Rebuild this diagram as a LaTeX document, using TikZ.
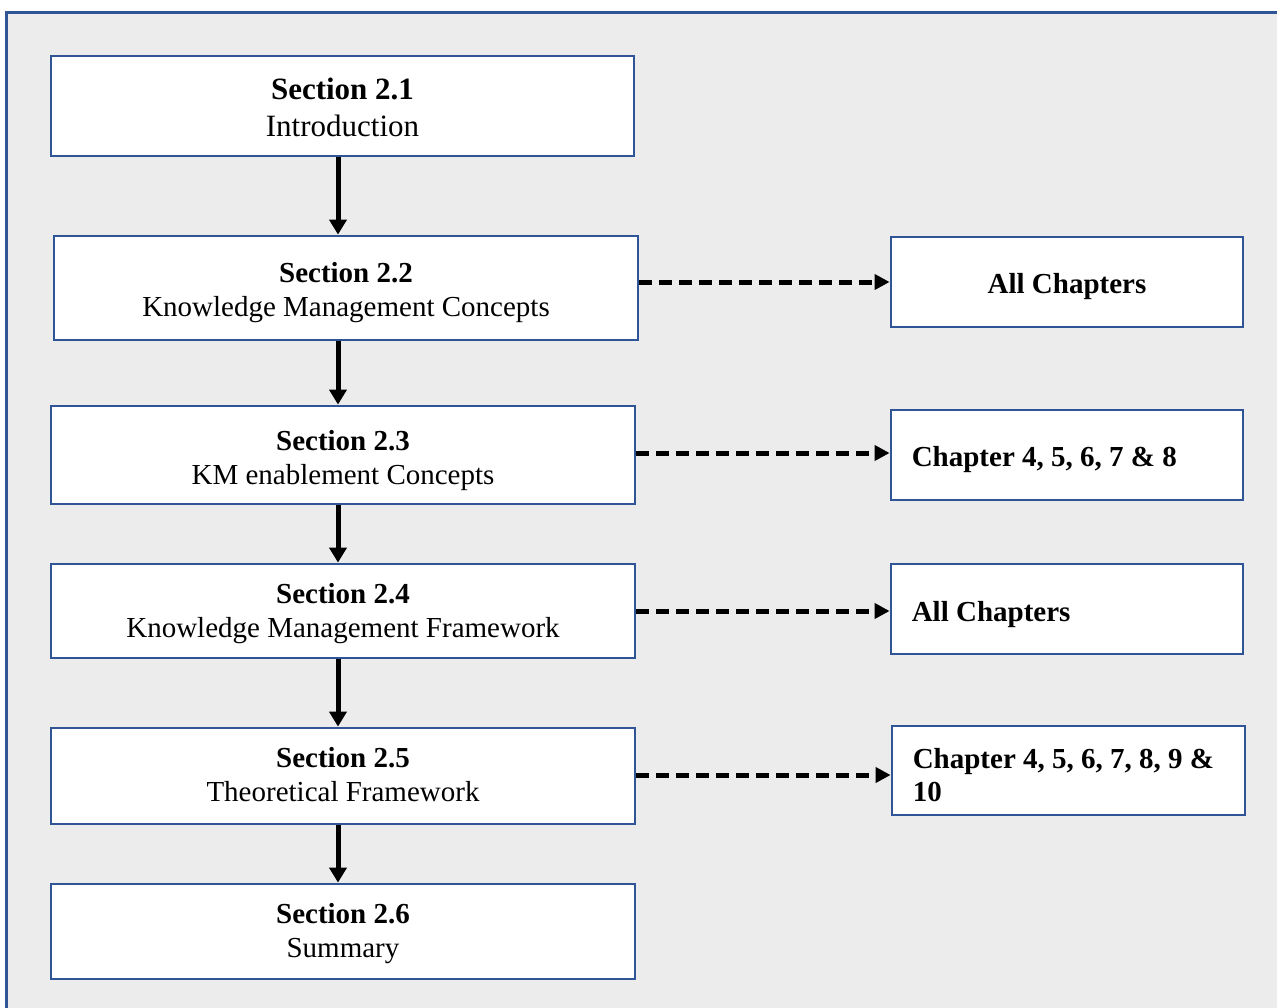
\documentclass[tikz,border=0pt]{standalone}
\usepackage{fontspec}
\setmainfont{Liberation Serif}
\usetikzlibrary{arrows.meta}
\definecolor{frameblue}{HTML}{2F5597}
\definecolor{panelgray}{HTML}{ECECEC}
\begin{document}
\frenchspacing
\begin{tikzpicture}[x=1pt,y=-1pt,
  box/.style={draw=frameblue, line width=2.8pt, fill=white, inner sep=0pt},
  refbox/.style={box, minimum width=352, minimum height=90},
  txt/.style={inner sep=0pt, align=center, font=\fontsize{29}{34}\selectfont},
  bigtxt/.style={txt, font=\fontsize{31}{37}\selectfont},
  reftxt/.style={txt, font=\bfseries\fontsize{29}{33}\selectfont},
  leftreftxt/.style={reftxt, anchor=west, align=left},
  flow/.style={line width=5pt, -{Triangle[length=15pt,width=17pt]}},
  link/.style={line width=5pt, dash pattern=on 13pt off 7pt,
    -{Triangle[length=15pt,width=15pt]}}
]
\fill[white] (0,0) rectangle (1277,1007);
\useasboundingbox (0,0) rectangle (1277,1007);
\draw[frameblue, fill=panelgray, line width=3pt] (6,12) rectangle (1310,1040);

% section boxes
\node[box, minimum width=583, minimum height=100] (s1) at (342.5,106) {};
\node[box, minimum width=584, minimum height=104] (s2) at (346,288) {};
\node[box, minimum width=584, minimum height=98] (s3) at (343,455) {};
\node[box, minimum width=584, minimum height=94] (s4) at (343,611) {};
\node[box, minimum width=584, minimum height=96] (s5) at (343,776) {};
\node[box, minimum width=584, minimum height=95] (s6) at (343,931.5) {};

\node[bigtxt] (s1t) at ([yshift=-1pt]s1.center) {\textbf{Section 2.1}\\Introduction};
\node[txt] (s2t) at ([yshift=-5pt]s2.center) {\textbf{Section 2.2}\\Knowledge Management Concepts};
\node[txt] (s3t) at ([yshift=-6pt]s3.center) {\textbf{Section 2.3}\\KM enablement Concepts};
\node[txt] (s4t) at ([yshift=-3pt]s4.center) {\textbf{Section 2.4}\\Knowledge Management Framework};
\node[txt] (s5t) at ([yshift=1pt]s5.center) {\textbf{Section 2.5}\\Theoretical Framework};
\node[txt] (s6t) at ([yshift=-2pt]s6.center) {\textbf{Section 2.6}\\Summary};

% chapter reference boxes
\node[refbox] (r1) at (1067,282) {};
\node[refbox] (r2) at (1067,455) {};
\node[refbox] (r3) at (1067,609) {};
\node[refbox, minimum width=353, minimum height=89] (r4) at (1068.5,770.5) {};

\node[reftxt] (r1t) at ([yshift=-5pt]r1.center) {All Chapters};
\node[leftreftxt] (r2t) at ([xshift=22pt,yshift=-5pt]r2.west) {Chapter 4, 5, 6, 7 \& 8};
\node[leftreftxt] (r3t) at ([xshift=22pt,yshift=-6pt]r3.west) {All Chapters};
\node[leftreftxt] (r4t) at ([xshift=22pt,yshift=-4.5pt]r4.west) {Chapter 4, 5, 6, 7, 8, 9 \&\\10};

% main flow
\coordinate (spine) at (338,0);
\draw[flow] (s1.south -| spine) -- (s2.north -| spine);
\draw[flow] (s2.south -| spine) -- (s3.north -| spine);
\draw[flow] (s3.south -| spine) -- (s4.north -| spine);
\draw[flow] (s4.south -| spine) -- (s5.north -| spine);
\draw[flow] (s5.south -| spine) -- (s6.north -| spine);

% links to chapters
\draw[link] (s2.east |- r1.west) -- (r1.west);
\draw[link] ([yshift=2pt]s3.east |- r2.west) -- ([yshift=2pt]r2.west);
\draw[link] ([yshift=-2pt]s4.east |- r3.west) -- ([yshift=-2pt]r3.west);
\draw[link] ([yshift=-4.5pt]s5.east |- r4.west) -- ([yshift=-4.5pt]r4.west);
\end{tikzpicture}
\end{document}
